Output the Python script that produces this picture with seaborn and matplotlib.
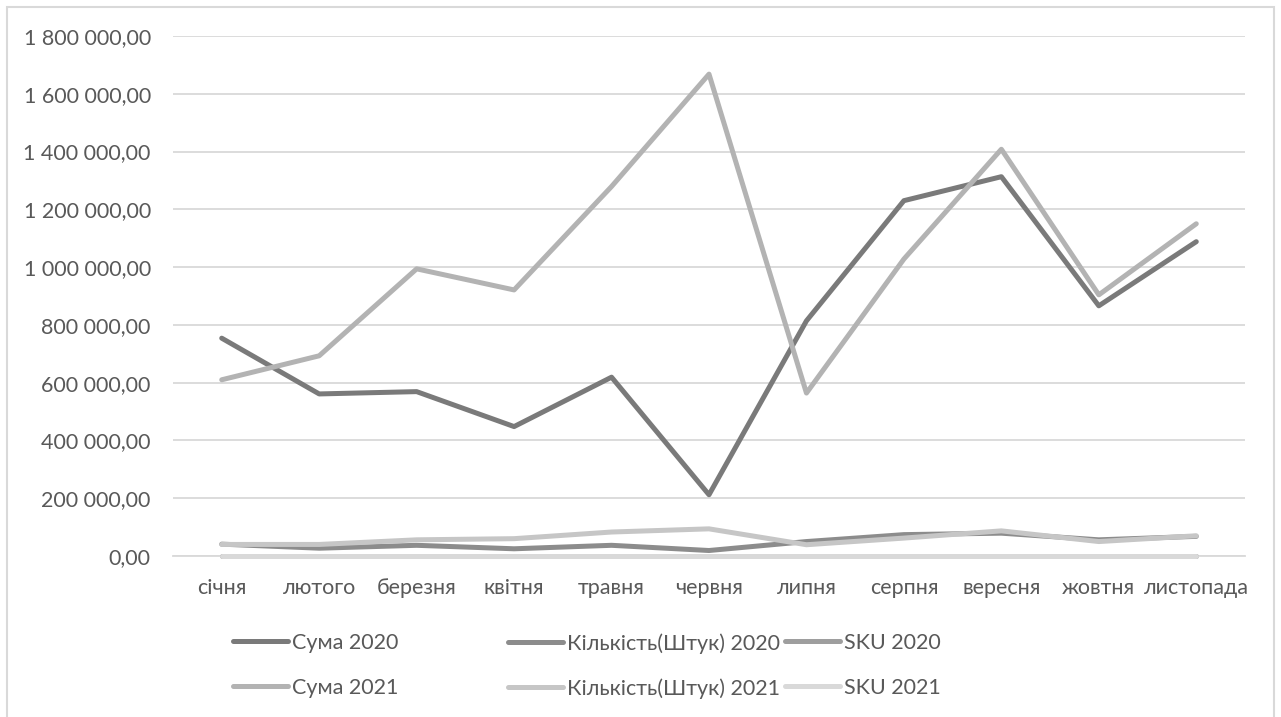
import numpy as np
import pandas as pd
import matplotlib
matplotlib.use("Agg")
import matplotlib.pyplot as plt
from matplotlib.ticker import FuncFormatter, FixedLocator, NullFormatter
from matplotlib.lines import Line2D
from matplotlib.patches import Rectangle
import seaborn as sns

# Monthly figures
months = ["січня", "лютого", "березня", "квітня", "травня", "червня",
          "липня", "серпня", "вересня", "жовтня", "листопада"]

suma_2020 = [754000, 561000, 569000, 448000, 619000, 212000,
             814000, 1230000, 1313000, 866000, 1088000]
kilkist_2020 = [41000, 27000, 37000, 25000, 37000, 19000,
                50000, 74000, 79000, 56000, 68000]
sku_2020 = [300, 300, 300, 300, 300, 300, 300, 300, 300, 300, 300]

suma_2021 = [610000, 693000, 994000, 921000, 1279000, 1668000,
             564000, 1028000, 1408000, 904000, 1150000]
kilkist_2021 = [40000, 40000, 56000, 60000, 83000, 94000,
                39000, 62000, 87000, 50000, 70000]
sku_2021 = [400, 400, 400, 400, 400, 400, 400, 400, 400, 400, 400]

series_names = ["Сума 2020", "Кількість(Штук) 2020", "SKU 2020",
                "Сума 2021", "Кількість(Штук) 2021", "SKU 2021"]
series_values = [suma_2020, kilkist_2020, sku_2020,
                 suma_2021, kilkist_2021, sku_2021]
series_colors = ["#7a7a7a", "#8c8c8c", "#9e9e9e",
                 "#b3b3b3", "#c6c6c6", "#d9d9d9"]

frames = []
for name, vals in zip(series_names, series_values):
    frames.append(pd.DataFrame({"idx": np.arange(len(months)),
                                "value": vals, "series": name}))
df = pd.concat(frames, ignore_index=True)

sns.set_theme(style="white")
plt.rcParams["font.family"] = ["Lato", "DejaVu Sans"]

W, H = 1281, 717
fig = plt.figure(figsize=(W / 100, H / 100), dpi=100)
ax = fig.add_axes([173 / W, (H - 556) / H, (1245 - 173) / W, (556 - 36) / H])

text_color = "#595959"
grid_color = "#d9d9d9"
fs = 15.5
lw = 3.6

sns.lineplot(data=df, x="idx", y="value", hue="series",
             hue_order=series_names, palette=series_colors,
             linewidth=lw, ax=ax, legend=False, sort=False,
             solid_capstyle="round")
for line in ax.get_lines():
    line.set_clip_on(False)
    line.set_zorder(3)

ax.set_xlim(-0.5, len(months) - 0.5)
ax.set_ylim(0, 1800000)
ax.set_xlabel("")
ax.set_ylabel("")

# y axis: gridlines every 200 000 with space-grouped, comma-decimal labels
ax.set_yticks(np.arange(0, 1800001, 200000))
ax.yaxis.set_major_formatter(FuncFormatter(
    lambda v, p: f"{v:,.2f}".replace(",", " ").replace(".", ",")))
ax.tick_params(axis="y", length=0, pad=16, labelsize=fs, labelcolor=text_color)
ax.grid(axis="y", color=grid_color, linewidth=1.3)
ax.set_axisbelow(True)

# x axis: ticks on category boundaries, labels centred in categories
ax.xaxis.set_major_locator(FixedLocator(np.arange(-0.5, len(months), 1.0)))
ax.xaxis.set_major_formatter(NullFormatter())
ax.xaxis.set_minor_locator(FixedLocator(np.arange(len(months))))
ax.set_xticklabels(months, minor=True)
ax.tick_params(axis="x", which="major", length=6, width=1.3, color=grid_color, direction="out")
ax.tick_params(axis="x", which="minor", length=0, pad=16, labelsize=fs, labelcolor=text_color)

for s in ["top", "right", "left"]:
    ax.spines[s].set_visible(False)
ax.spines["bottom"].set_color(grid_color)
ax.spines["bottom"].set_linewidth(1.3)

# Legend laid out in three columns, two rows
handles = [Line2D([], [], color=c, linewidth=lw, solid_capstyle="round")
           for c in series_colors]
col_x = [233, 508, 785]
for i, x0 in enumerate(col_x):
    hs = [handles[i], handles[i + 3]]
    ls = [series_names[i], series_names[i + 3]]
    leg = fig.legend(hs, ls, loc="upper left",
                     bbox_to_anchor=(x0 / W, 1 - 633 / H),
                     frameon=False, fontsize=fs, handlelength=2.55,
                     handletextpad=0.2, labelspacing=1.14, borderpad=0,
                     borderaxespad=0)
    for t in leg.get_texts():
        t.set_color(text_color)

# Chart border
fig.patches.append(Rectangle((7 / W, -0.01), (1274 - 7) / W, 1 - 7 / H + 0.01,
                             transform=fig.transFigure, fill=False,
                             edgecolor=grid_color, linewidth=1.5))

fig.savefig("out.png", dpi=100, facecolor="white")
